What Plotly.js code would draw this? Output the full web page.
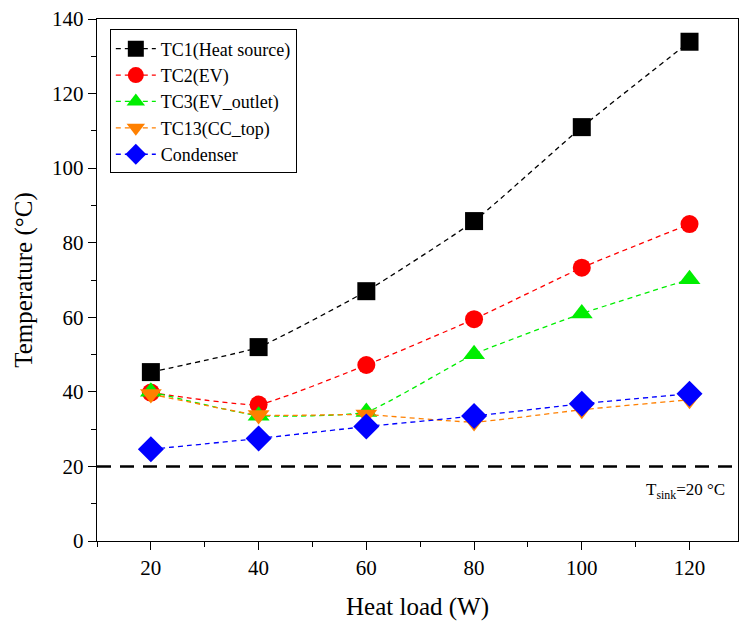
<!DOCTYPE html>
<html>
<head>
<meta charset="utf-8">
<script src="https://cdn.plot.ly/plotly-3.0.1.min.js"></script>
<style>html,body{margin:0;padding:0;background:#fff;}#chart{width:742px;height:625px;}</style>
</head>
<body>
<div id="chart"></div>
<script>
const heatLoad = [20, 40, 60, 80, 100, 120];
const tc1 = [45.3, 52.0, 67.0, 85.8, 111.0, 133.9];
const tc2 = [39.8, 36.6, 47.2, 59.5, 73.3, 85.0];
const tc3 = [40.0, 33.6, 34.6, 50.1, 61.0, 70.2];
const tc13 = [39.4, 33.8, 33.9, 31.9, 35.2, 37.9];
const condenser = [24.6, 27.5, 30.7, 33.5, 36.8, 39.5];
const seriesNames = ["TC1(Heat source)", "TC2(EV)", "TC3(EV_outlet)", "TC13(CC_top)", "Condenser"];
const seriesColors = ["#000000", "#ff0000", "#00ee00", "#ff8000", "#0000ff"];
const seriesSymbols = ["square", "circle", "triangle-up", "triangle-down", "diamond"];
const seriesSizes = [18, 18, 19, 19, 20];
const sinkTemp = 20;
const xRange = [10, 129];

const allSeries = [tc1, tc2, tc3, tc13, condenser];
const traces = allSeries.map((ys, i) => ({
  x: heatLoad, y: ys, name: seriesNames[i], type: 'scatter', mode: 'lines+markers',
  line: {color: seriesColors[i], width: 1.3, dash: '5px,4px', shape: 'spline', smoothing: 0.4},
  marker: {color: seriesColors[i], symbol: seriesSymbols[i], size: seriesSizes[i], line: {width: 0}}
}));
traces.unshift({
  x: xRange, y: [sinkTemp, sinkTemp], type: 'scatter', mode: 'lines', showlegend: false,
  line: {color: '#000', width: 2.5, dash: '14px,9px'}, hoverinfo: 'skip'
});

const fam = 'Liberation Serif, Times New Roman, serif';
const F = (s) => ({family: fam, size: s, color: '#000'});
const layout = {
  width: 742, height: 625,
  margin: {l: 97, r: 4, t: 19, b: 84},
  paper_bgcolor: '#fff', plot_bgcolor: '#fff',
  font: F(21),
  showlegend: true,
  legend: {x: 0.02, y: 0.98, xanchor: 'left', yanchor: 'top', bgcolor: '#fff',
           bordercolor: '#000', borderwidth: 1, font: F(18),
           tracegroupgap: 0, itemwidth: 40},
  xaxis: {
    range: xRange, tickvals: [20, 40, 60, 80, 100, 120], ticks: 'outside', ticklen: 8,
    tickcolor: '#000', tickwidth: 1, showline: true, linecolor: '#000', linewidth: 1.2,
    mirror: true, showgrid: false, zeroline: false,
    minor: {dtick: 10, tick0: 0, ticks: 'outside', ticklen: 5, tickcolor: '#000', showgrid: false},
    tickfont: F(21),
    title: {text: 'Heat load (W)', font: F(25), standoff: 18}
  },
  yaxis: {
    range: [0, 140], dtick: 20, tick0: 0, ticks: 'outside', ticklen: 8,
    tickcolor: '#000', tickwidth: 1, showline: true, linecolor: '#000', linewidth: 1.2,
    mirror: true, showgrid: false, zeroline: false,
    minor: {dtick: 10, tick0: 0, ticks: 'outside', ticklen: 5, tickcolor: '#000', showgrid: false},
    tickfont: F(21),
    title: {text: 'Temperature (°C)', font: F(25), standoff: 12}
  },
  annotations: [{
    xref: 'paper', yref: 'y', x: 0.983, y: 13.3, xanchor: 'right', yanchor: 'middle',
    text: 'T<sub>sink</sub>=20 °C', showarrow: false, font: F(17)
  }]
};
Plotly.newPlot('chart', traces, layout, {displayModeBar: false, staticPlot: true});
</script>
</body>
</html>
